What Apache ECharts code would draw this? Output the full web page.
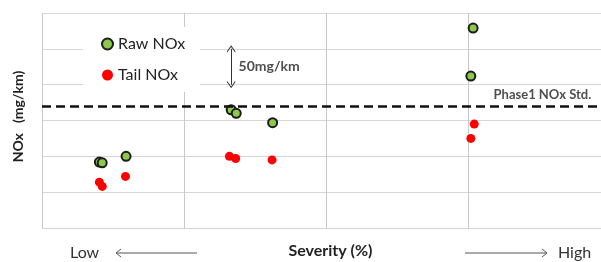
<!DOCTYPE html>
<html>
<head>
<meta charset="utf-8">
<script src="https://cdn.jsdelivr.net/npm/echarts@6/dist/echarts.min.js"></script>
<style>
  html, body { margin: 0; padding: 0; background: #fff; }
  #chart { width: 601px; height: 262px; }
</style>
</head>
<body>
<div id="chart"></div>
<script>
// severity (%) on x, NOx (mg/km) on y
const rawX = [10.1, 10.6, 14.8, 33.3, 34.2, 40.6, 75.9, 75.5];
const rawY = [92, 91, 100, 165, 160, 147, 279, 212];
const tailX = [10.1, 10.6, 14.7, 33.0, 34.1, 40.5, 76.1, 75.5];
const tailY = [64, 58, 72, 100, 97, 95, 145, 125];
const stdLimit = 170; // Phase1 NOx Std.
const stepArrowX = 33.3; // the 50mg/km marker
const stepLow = 200;
const stepHigh = 250;

const pair = (xs, ys) => xs.map((x, i) => [x, ys[i]]);
const FONT = "Lato";
const chevron = "path://M0,0 L6,10 L5,11 L0,2.5 L-5,11 L-6,10 Z";

var chart = echarts.init(document.getElementById("chart"));

var option = {
  animation: false,
  textStyle: { fontFamily: FONT },
  grid: { left: 42, top: 13, right: -9, bottom: 34, outerBoundsMode: "none", containLabel: false },
  legend: {
    data: ["Raw NOx", "Tail NOx"],
    orient: "vertical",
    left: 83,
    top: 27,
    padding: [9, 15, 9, 18],
    itemGap: 15,
    itemWidth: 11,
    itemHeight: 11,
    backgroundColor: "#fff",
    textStyle: { fontFamily: FONT, fontSize: 16, color: "#222" },
  },
  xAxis: {
    type: "value",
    min: 0,
    max: 100,
    interval: 25,
    name: "Severity (%)",
    nameLocation: "middle",
    nameGap: 15,
    nameTextStyle: { fontFamily: FONT, fontSize: 16, fontWeight: "bold", color: "#222", padding: [0, 0, 0, 9] },
    axisLine: { show: false },
    axisTick: { show: false },
    axisLabel: { show: false },
    splitLine: { lineStyle: { color: "#c8c8c8", width: 1 } },
  },
  yAxis: {
    type: "value",
    min: 0,
    max: 300,
    interval: 50,
    name: "NOx   (mg/km)",
    nameLocation: "middle",
    nameGap: 17,
    nameTextStyle: { fontFamily: FONT, fontSize: 14, fontWeight: "bold", color: "#222", padding: [0, 0, 0, 8] },
    axisLine: { show: false },
    axisTick: { show: false },
    axisLabel: { show: false },
    splitLine: { lineStyle: { color: "#d6d6d6", width: 1 } },
  },
  series: [
    {
      name: "Raw NOx",
      type: "scatter",
      symbolSize: 9,
      itemStyle: { color: "#8cc84b", borderColor: "#1c1c1c", borderWidth: 2, opacity: 1 },
      data: pair(rawX, rawY),
      z: 3,
    },
    {
      name: "Tail NOx",
      type: "scatter",
      symbolSize: 9,
      itemStyle: { color: "#ff0000", opacity: 1 },
      data: pair(tailX, tailY),
      z: 3,
    },
    {
      // annotations: std line, 50mg/km step marker and their labels
      name: "notes",
      type: "scatter",
      symbolSize: 0,
      silent: true,
      z: 2,
      data: [
        { value: [34.6, 225], label: { show: true, position: "right", distance: 0, formatter: "50mg/km", fontSize: 14, fontWeight: "bold", color: "#222" } },
        { value: [88.1, 186], label: { show: true, position: "inside", formatter: "Phase1 NOx Std.", fontSize: 13, fontWeight: "bold", color: "#222" } },
      ],
      markLine: {
        silent: true,
        animation: false,
        symbol: ["none", "none"],
        label: { show: false },
        data: [
          {
            yAxis: stdLimit,
            lineStyle: { color: "#111", width: 2.5, type: [9, 5] },
          },
          [
            { coord: [stepArrowX, stepLow], symbol: chevron, symbolSize: [9, 7] },
            { coord: [stepArrowX, stepHigh], symbol: chevron, symbolSize: [9, 7] },
          ].map(d => Object.assign(d, { lineStyle: { color: "#333", width: 1, type: "solid" } })),
        ],
      },
    },
  ],
  graphic: [
    { type: "text", left: 70, top: 245, style: { text: "Low", font: "16px Lato", fill: "#333" } },
    { type: "polyline", shape: { points: [[116, 253], [197, 253]] }, style: { stroke: "#555", lineWidth: 1, fill: null } },
    { type: "polyline", shape: { points: [[121, 249], [116, 253], [121, 257]] }, style: { stroke: "#555", lineWidth: 1, fill: null } },
    { type: "polyline", shape: { points: [[465, 253], [547, 253]] }, style: { stroke: "#555", lineWidth: 1, fill: null } },
    { type: "polyline", shape: { points: [[542, 249], [547, 253], [542, 257]] }, style: { stroke: "#555", lineWidth: 1, fill: null } },
    { type: "text", left: 558, top: 245, style: { text: "High", font: "16px Lato", fill: "#333" } },
  ],
};

option && chart.setOption(option);
</script>
</body>
</html>
